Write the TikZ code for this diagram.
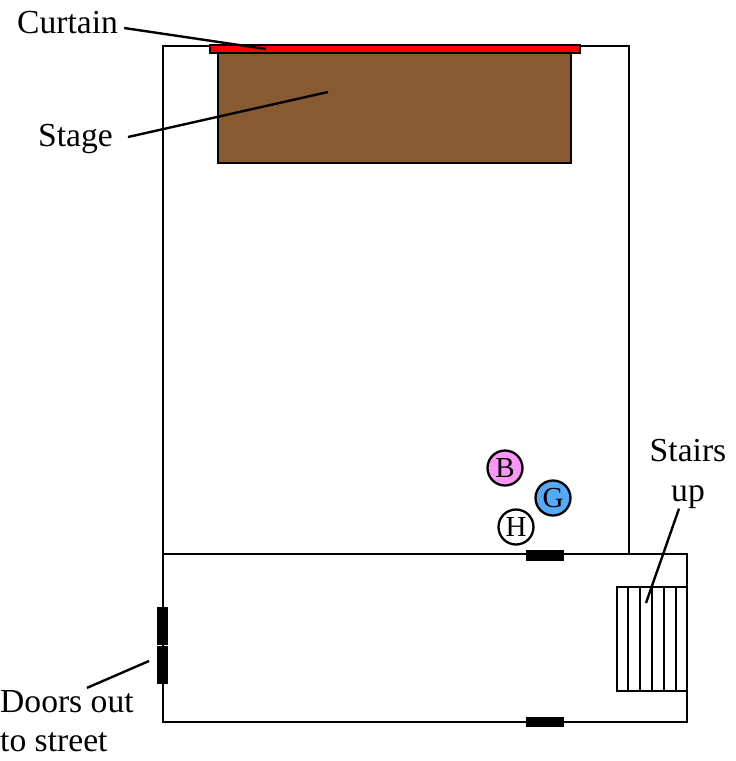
\documentclass[tikz,border=0pt]{standalone}
\usepackage{fontspec}
\setmainfont{Liberation Serif}
\definecolor{stagebrown}{RGB}{135,90,50}
\definecolor{bcolor}{RGB}{250,150,245}
\definecolor{gcolor}{RGB}{85,170,245}
\tikzset{
  wall/.style={draw=black, line width=2.3pt},
  door/.style={fill=black},
  person/.style={circle, draw=black, line width=2.3pt, minimum size=35pt, inner sep=0pt, font=\fontsize{29}{29}\selectfont},
  label/.style={inner sep=0pt, font=\fontsize{33.6}{39.5}\selectfont},
  leader/.style={draw=black, line width=2.4pt}
}
\begin{document}
\begin{tikzpicture}[x=1pt, y=-1pt]
\useasboundingbox (0,0) rectangle (736,761);
\draw[wall] (163,46) rectangle (629,554);
\draw[wall] (163,554) rectangle (687,722);
\filldraw[wall, fill=stagebrown] (218,53) rectangle (571,163);
\filldraw[wall, fill=red] (210,45) rectangle (580,53);

\fill[door] (526,550) rectangle (564,561);
\fill[door] (526,717) rectangle (564,727);
\fill[door] (157,607) rectangle (168,645);
\fill[door] (157,646) rectangle (168,684);

\draw[wall] (617,587) rectangle (687,691);
\foreach \stairx in {628,640,652,664,676}
  \draw[line width=1.8pt] (\stairx,587) -- (\stairx,691);

\node[person, fill=bcolor] (b) at (505,468) {B};
\node[person, fill=gcolor] (g) at (553,498) {G};
\node[person, fill=white] (h) at (516,527) {H};

\node[label, anchor=west] (curtain) at (17,23) {Curtain};
\node[label, anchor=west] (stage) at (38,139) {Stage};
\node[label, align=center] (stairs) at (688,474) {Stairs\\up};
\node[label, align=left, anchor=west] (doors) at (0,721) {Doors out\\to street};

\coordinate (curtaintip) at (266,49);
\coordinate (stagetip) at (328,92);
\coordinate (stairstip) at (646,603);
\coordinate (doorstip) at (149,661);

\draw[leader] ([xshift=6pt,yshift=-5pt]curtain.east) -- (curtaintip);
\draw[leader] ([xshift=15pt,yshift=2pt]stage.east) -- (stagetip);
\draw[leader] ([xshift=-9pt]stairs.south) -- (stairstip);
\draw[leader] ([xshift=20pt,yshift=2pt]doors.north) -- (doorstip);
\end{tikzpicture}
\end{document}
